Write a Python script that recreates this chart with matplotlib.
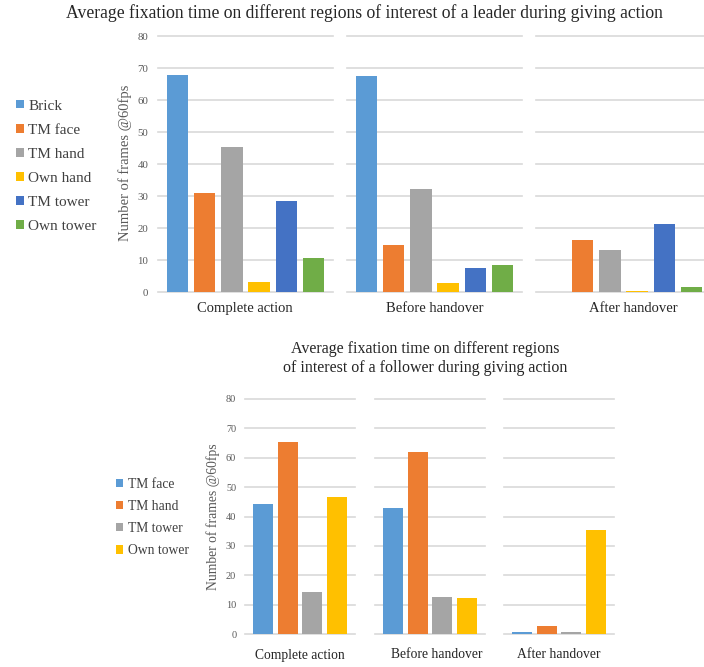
import matplotlib
matplotlib.use("Agg")
import matplotlib.pyplot as plt

plt.rcParams['font.family'] = ['Liberation Serif', 'DejaVu Serif']

# ---- data ----
phases = ["Complete action", "Before handover", "After handover"]

leader_regions = ["Brick", "TM face", "TM hand", "Own hand", "TM tower", "Own tower"]
leader_values = [
    [67.8, 30.8, 45.3, 3.0, 28.4, 10.5],   # Complete action
    [67.6, 14.8, 32.2, 2.9, 7.5, 8.3],     # Before handover
    [0.0, 16.4, 13.1, 0.3, 21.2, 1.6],     # After handover
]

follower_regions = ["TM face", "TM hand", "TM tower", "Own tower"]
follower_values = [
    [44.1, 65.3, 14.3, 46.6],   # Complete action
    [42.9, 62.0, 12.6, 12.3],   # Before handover
    [0.7, 2.8, 0.7, 35.4],      # After handover
]

leader_colors = ["#5B9BD5", "#ED7D31", "#A5A5A5", "#FFC000", "#4472C4", "#70AD47"]
follower_colors = ["#5B9BD5", "#ED7D31", "#A5A5A5", "#FFC000"]

yticks = [0, 10, 20, 30, 40, 50, 60, 70, 80]

W, H = 704, 667
fig = plt.figure(figsize=(W / 100, H / 100), dpi=100)
fig.patch.set_facecolor("white")

TICK_COLOR = "#595959"
GRID_COLOR = "#D9D9D9"


def px_axes(left, top, width, height):
    return fig.add_axes([left / W, 1 - (top + height) / H, width / W, height / H])


def draw_group(panel_lefts, panel_width, top, bottom, values, regions, colors,
               bar_w, margin, label_x, label_y, label_size, tick_size, tick_pad):
    n = len(regions)
    axes = []
    for k, left in enumerate(panel_lefts):
        ax = px_axes(left, top, panel_width, bottom - top)
        xs = list(range(n))
        bars = ax.bar(xs, values[k], width=bar_w, color=colors, zorder=3)
        ax.set_xlim(-margin, n - 1 + margin)
        ax.set_ylim(0, 80)
        ax.set_yticks(yticks)
        ax.grid(axis="y", color=GRID_COLOR, lw=1.2, zorder=0)
        ax.set_axisbelow(True)
        for s in ax.spines.values():
            s.set_visible(False)
        ax.set_xticks([])
        ax.tick_params(axis="y", length=0, pad=tick_pad, labelsize=tick_size,
                       labelcolor=TICK_COLOR)
        if k > 0:
            ax.set_yticklabels([])
        for gl in ax.get_ygridlines():
            gl.set_clip_on(False)
        fig.text(label_x[k] / W, 1 - label_y / H, phases[k], ha="center", va="center",
                 fontsize=label_size, color="#262626")
        axes.append((ax, bars))
    return axes


# ---- leader chart ----
top_axes = draw_group([158, 347, 536], 175, 36, 292, leader_values, leader_regions,
                      leader_colors, 0.79, 0.71, [245, 435, 633], 308, 10.5, 7.8, 7.0)
fig.text(364 / W, 1 - 13 / H,
         "Average fixation time on different regions of interest of a leader during giving action",
         ha="center", va="center", fontsize=12.7, color="#262626")
fig.text(125 / W, 1 - 163 / H, "Number of frames @60fps", rotation=90,
         ha="center", va="center", fontsize=10.5, color=TICK_COLOR)
ax0, bars0 = top_axes[0]
fig.legend(list(bars0.patches), leader_regions, loc="upper left",
           bbox_to_anchor=(16 / W, 1 - 99.5 / H),
           frameon=False, fontsize=11, handlelength=0.5, handleheight=0.5,
           handletextpad=0.3, labelspacing=0.73, borderpad=0, borderaxespad=0,
           labelcolor="#404040")

# ---- follower chart ----
bot_axes = draw_group([245, 375, 504], 110, 399, 634, follower_values, follower_regions,
                      follower_colors, 0.8, 0.71, [300, 437, 559], 655, 9.8, 7.4, 6.3)
fig.text(425 / W, 1 - 358 / H,
         "Average fixation time on different regions\nof interest of a follower during giving action",
         ha="center", va="center", fontsize=11.5, color="#262626", linespacing=1.25)
fig.text(213 / W, 1 - 517 / H, "Number of frames @60fps", rotation=90,
         ha="center", va="center", fontsize=9.8, color=TICK_COLOR)
ax1, bars1 = bot_axes[0]
fig.legend(list(bars1.patches), follower_regions, loc="upper left",
           bbox_to_anchor=(116 / W, 1 - 477.5 / H),
           frameon=False, fontsize=9.8, handlelength=0.55, handleheight=0.55,
           handletextpad=0.3, labelspacing=0.68, borderpad=0, borderaxespad=0,
           labelcolor="#404040")

fig.savefig("out.png", dpi=100, facecolor="white")
